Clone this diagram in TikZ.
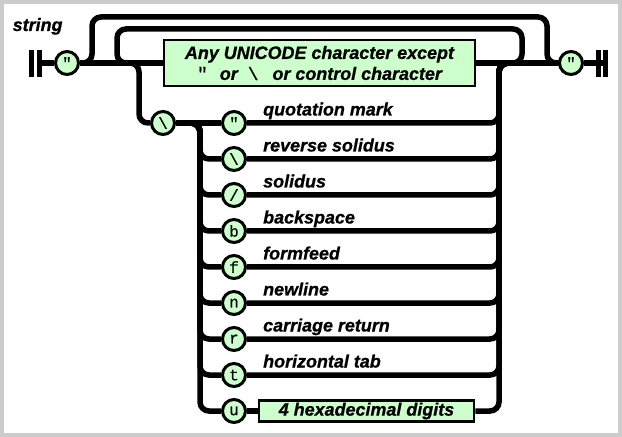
\documentclass[tikz,border=0pt]{standalone}
\usepackage{fontspec}
\setmainfont{Liberation Sans}[BoldItalicFeatures = {FakeBold = 0.8}]
\setmonofont{Liberation Mono}[FakeBold = 0.6]

\definecolor{termgreen}{RGB}{204,255,204}
\definecolor{framegray}{RGB}{204,204,204}

\tikzset{
    track/.style = {line width = 5.5bp, rounded corners = 9bp},
    term/.style = {circle, draw, line width = 3bp, fill = termgreen,
        minimum size = 23bp, inner sep = 0pt,
        font = \fontsize{16}{16}\selectfont\ttfamily},
    nonterm/.style = {rectangle, draw, line width = 2.8bp, fill = termgreen,
        inner sep = 0pt, align = center,
        font = \fontsize{18}{21}\selectfont\bfseries\itshape},
    caption/.style = {anchor = base west, inner sep = 0pt,
        font = \fontsize{18}{21}\selectfont\bfseries\itshape},
}

\begin{document}
\begin{tikzpicture}[x = 1bp, y = -1bp]

    \fill[framegray] (0, 0) rectangle (622, 437);
    \fill[white] (4, 4) rectangle (618, 433);

    \node[caption] (title) at (12.5, 31) {string};

    % ends of the rule
    \draw[line width = 5bp] (31, 50) -- (31, 77) (39.5, 50) -- (39.5, 77);
    \draw[line width = 5bp] (598, 50) -- (598, 77) (605.5, 50) -- (605.5, 77);
    \coordinate (begin) at (39.5, 63);
    \coordinate (finish) at (605.5, 63);

    \node[term] (openq) at (67, 63) {"};
    \node[term] (closeq) at (571, 63) {"};
    \node[nonterm, minimum width = 311bp, minimum height = 46bp] (chars)
        at (319.5, 63) {Any UNICODE character except\\
        {\ttfamily\mdseries\upshape "}\hspace{12bp}or\hspace{10bp}%
        {\ttfamily\mdseries\upshape \textbackslash}\hspace{14bp}or control character};

    \node[term] (escape) at (163, 123) {\textbackslash};

    \foreach \c [count = \i] in {", \textbackslash, /, b, f, n, r, t, u}
        \node[term] (e\i) at (234, 87 + 36*\i) {\c};

    \foreach \t [count = \i] in {quotation mark, reverse solidus, solidus,
        backspace, formfeed, newline, carriage return, horizontal tab}
        \node[caption] (lab\i) at (263, 79.5 + 36*\i) {\t};

    \node[nonterm, minimum width = 215bp, minimum height = 21bp] (hex)
        at (366.5, 411) {4 hexadecimal digits};

    % main line
    \draw[track] (begin) -- (openq);
    \draw[track] (openq) -- (chars);
    \draw[track] (chars) -- (closeq);
    \draw[track] (closeq) -- (finish);

    % empty string and repeat
    \draw[track] (openq.east) -| (92, 17) -| (547, 63) -- (closeq.west);
    \draw[track] (chars.east) -| (522, 29) -| (117, 63) -- (chars.west);

    % escapes
    \draw[track] (openq.east) -| (139, 123) -- (escape.west);
    \draw[track] (escape) -- (e1);
    \foreach \i in {2, ..., 9}
        \draw[track] (escape.east) -| (200, 87 + 36*\i) -- (e\i.west);
    \foreach \i in {1, ..., 8}
        \draw[track] (e\i.east) -| (499, 63) -- (closeq.west);
    \draw[track] (e9) -- (hex);
    \draw[track] (hex.east) -| (499, 63) -- (closeq.west);

\end{tikzpicture}
\end{document}
